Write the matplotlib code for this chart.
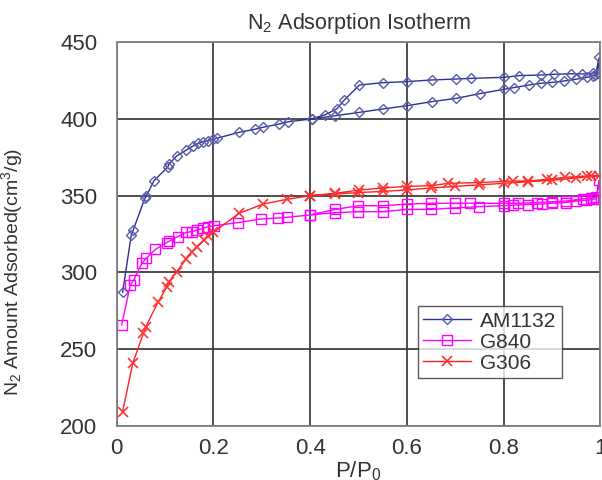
import matplotlib
matplotlib.use("Agg")
import matplotlib.pyplot as plt

plt.rcParams['font.family'] = ['Liberation Sans', 'DejaVu Sans']
plt.rcParams['mathtext.fontset'] = 'custom'
plt.rcParams['mathtext.rm'] = 'Liberation Sans'
plt.rcParams['mathtext.it'] = 'Liberation Sans'

# AM1132: adsorption branch followed by desorption branch
am_p = [0.012, 0.030, 0.034, 0.058, 0.061, 0.077, 0.106, 0.108, 0.124, 0.144,
        0.158, 0.169, 0.179, 0.189, 0.200, 0.207, 0.253, 0.286, 0.303, 0.336,
        0.355, 0.403, 0.452, 0.502, 0.550, 0.600, 0.652, 0.702, 0.751, 0.801,
        0.821, 0.853, 0.877, 0.901, 0.925, 0.949, 0.973, 0.985, 0.990, 0.998,
        0.995, 0.985, 0.963, 0.940, 0.904, 0.877, 0.832, 0.801, 0.732, 0.702,
        0.652, 0.600, 0.550, 0.502, 0.470, 0.455, 0.430, 0.403]
am_v = [287.0, 324.4, 327.6, 348.2, 349.7, 359.7, 368.8, 370.6, 375.8, 379.7,
        382.3, 384.0, 385.1, 385.8, 386.7, 387.3, 391.2, 393.2, 394.5, 396.6,
        398.1, 399.9, 402.0, 404.2, 406.4, 408.5, 411.2, 413.3, 416.4, 419.2,
        420.3, 422.0, 423.1, 423.7, 424.6, 425.7, 427.0, 428.0, 428.5, 440.0,
        430.0, 429.5, 429.2, 429.3, 429.0, 428.5, 428.1, 427.0, 426.3, 425.9,
        425.3, 424.2, 423.5, 422.0, 412.0, 406.4, 402.5, 400.0]

# G840
g840_p = [0.010, 0.028, 0.035, 0.052, 0.061, 0.080, 0.103, 0.108, 0.126, 0.144,
          0.155, 0.166, 0.179, 0.189, 0.201, 0.251, 0.298, 0.333, 0.353, 0.400,
          0.452, 0.500, 0.550, 0.600, 0.651, 0.700, 0.750, 0.800, 0.820, 0.850,
          0.880, 0.900, 0.930, 0.950, 0.970, 0.985, 0.992, 0.998,
          0.992, 0.980, 0.965, 0.930, 0.900, 0.870, 0.830, 0.800, 0.730, 0.700,
          0.651, 0.600, 0.550, 0.500, 0.452, 0.400]
g840_v = [265.8, 291.8, 295.0, 306.0, 309.2, 315.0, 319.4, 320.2, 323.3, 326.1,
          326.5, 327.6, 328.7, 329.8, 330.4, 332.4, 334.8, 335.4, 335.9, 337.4,
          338.9, 339.5, 339.5, 341.0, 341.0, 342.0, 342.8, 343.4, 343.8, 344.2,
          344.5, 345.0, 345.5, 346.5, 347.0, 347.5, 348.0, 360.0,
          349.0, 348.5, 348.0, 346.5, 346.0, 345.5, 345.0, 345.0, 345.0, 345.0,
          345.0, 344.5, 343.4, 343.4, 341.0, 337.5]

# G306
g306_p = [0.012, 0.033, 0.055, 0.060, 0.086, 0.103, 0.108, 0.124, 0.143, 0.155,
          0.166, 0.180, 0.189, 0.200, 0.253, 0.303, 0.352, 0.400, 0.452, 0.500,
          0.550, 0.600, 0.650, 0.700, 0.750, 0.800, 0.850, 0.900, 0.950, 0.980,
          0.998,
          0.973, 0.928, 0.890, 0.850, 0.820, 0.751, 0.685, 0.652, 0.600, 0.550,
          0.502, 0.452, 0.400]
g306_v = [209.3, 240.8, 260.3, 264.7, 281.0, 290.3, 294.0, 300.5, 308.5, 313.5,
          316.8, 321.1, 323.7, 326.1, 338.5, 344.5, 347.6, 349.9, 351.0, 352.0,
          352.7, 353.7, 355.0, 356.0, 357.0, 358.0, 359.0, 360.0, 361.5, 362.5,
          363.0,
          362.8, 361.9, 360.6, 359.5, 359.5, 358.5, 358.0, 356.5, 356.0, 355.0,
          353.6, 351.5, 350.0]

x_ticks = [0, 0.2, 0.4, 0.6, 0.8, 1]
x_tick_labels = ['0', '0.2', '0.4', '0.6', '0.8', '1']
y_ticks = [200, 250, 300, 350, 400, 450]

fig = plt.figure(figsize=(6.02, 4.8), dpi=100)
ax = fig.add_axes([0.194, 0.1125, 0.803, 0.8])

ax.plot(am_p, am_v, color='#2E3192', lw=1.0, marker='D', ms=5,
        mfc='none', mec='#5A5CA8', mew=1.0, label='AM1132')
ax.plot(g840_p, g840_v, color='#FF00FF', lw=1.0, marker='s', ms=7,
        mfc='none', mec='#FF00FF', mew=1.0, label='G840')
ax.plot(g306_p, g306_v, color='#FF2222', lw=1.0, marker='x', ms=7,
        mec='#FF3333', mew=1.2, label='G306')

ax.set_xlim(0, 1)
ax.set_ylim(200, 450)
ax.set_xticks(x_ticks)
ax.set_xticklabels(x_tick_labels)
ax.set_yticks(y_ticks)
ax.tick_params(axis='both', length=0, labelsize=16, colors='#333333')
ax.tick_params(axis='y', pad=14)
ax.tick_params(axis='x', pad=9)
ax.grid(True, color='#404040', lw=1.3)
ax.set_axisbelow(True)
for s in ax.spines.values():
    s.set_color('#808080')
    s.set_linewidth(1.3)

ax.set_title('N$_2$ Adsorption Isotherm', fontsize=15.5, color='#333333', pad=9)
ax.set_xlabel('P/P$_0$', fontsize=16, color='#333333', labelpad=0)
ax.set_ylabel('N$_2$ Amount Adsorbed(cm$^3$/g)', fontsize=14, color='#333333')
ax.yaxis.set_label_coords(-0.19, 0.40)

leg = ax.legend(loc='lower left', bbox_to_anchor=(0.623, 0.125), fontsize=15,
                frameon=True, fancybox=False, edgecolor='#333333',
                borderpad=0.25, labelspacing=0.1, handlelength=2.3,
                handletextpad=0.45, borderaxespad=0)
leg.get_frame().set_linewidth(1.0)
for t in leg.get_texts():
    t.set_color('#333333')

fig.savefig('out.png', dpi=100)
